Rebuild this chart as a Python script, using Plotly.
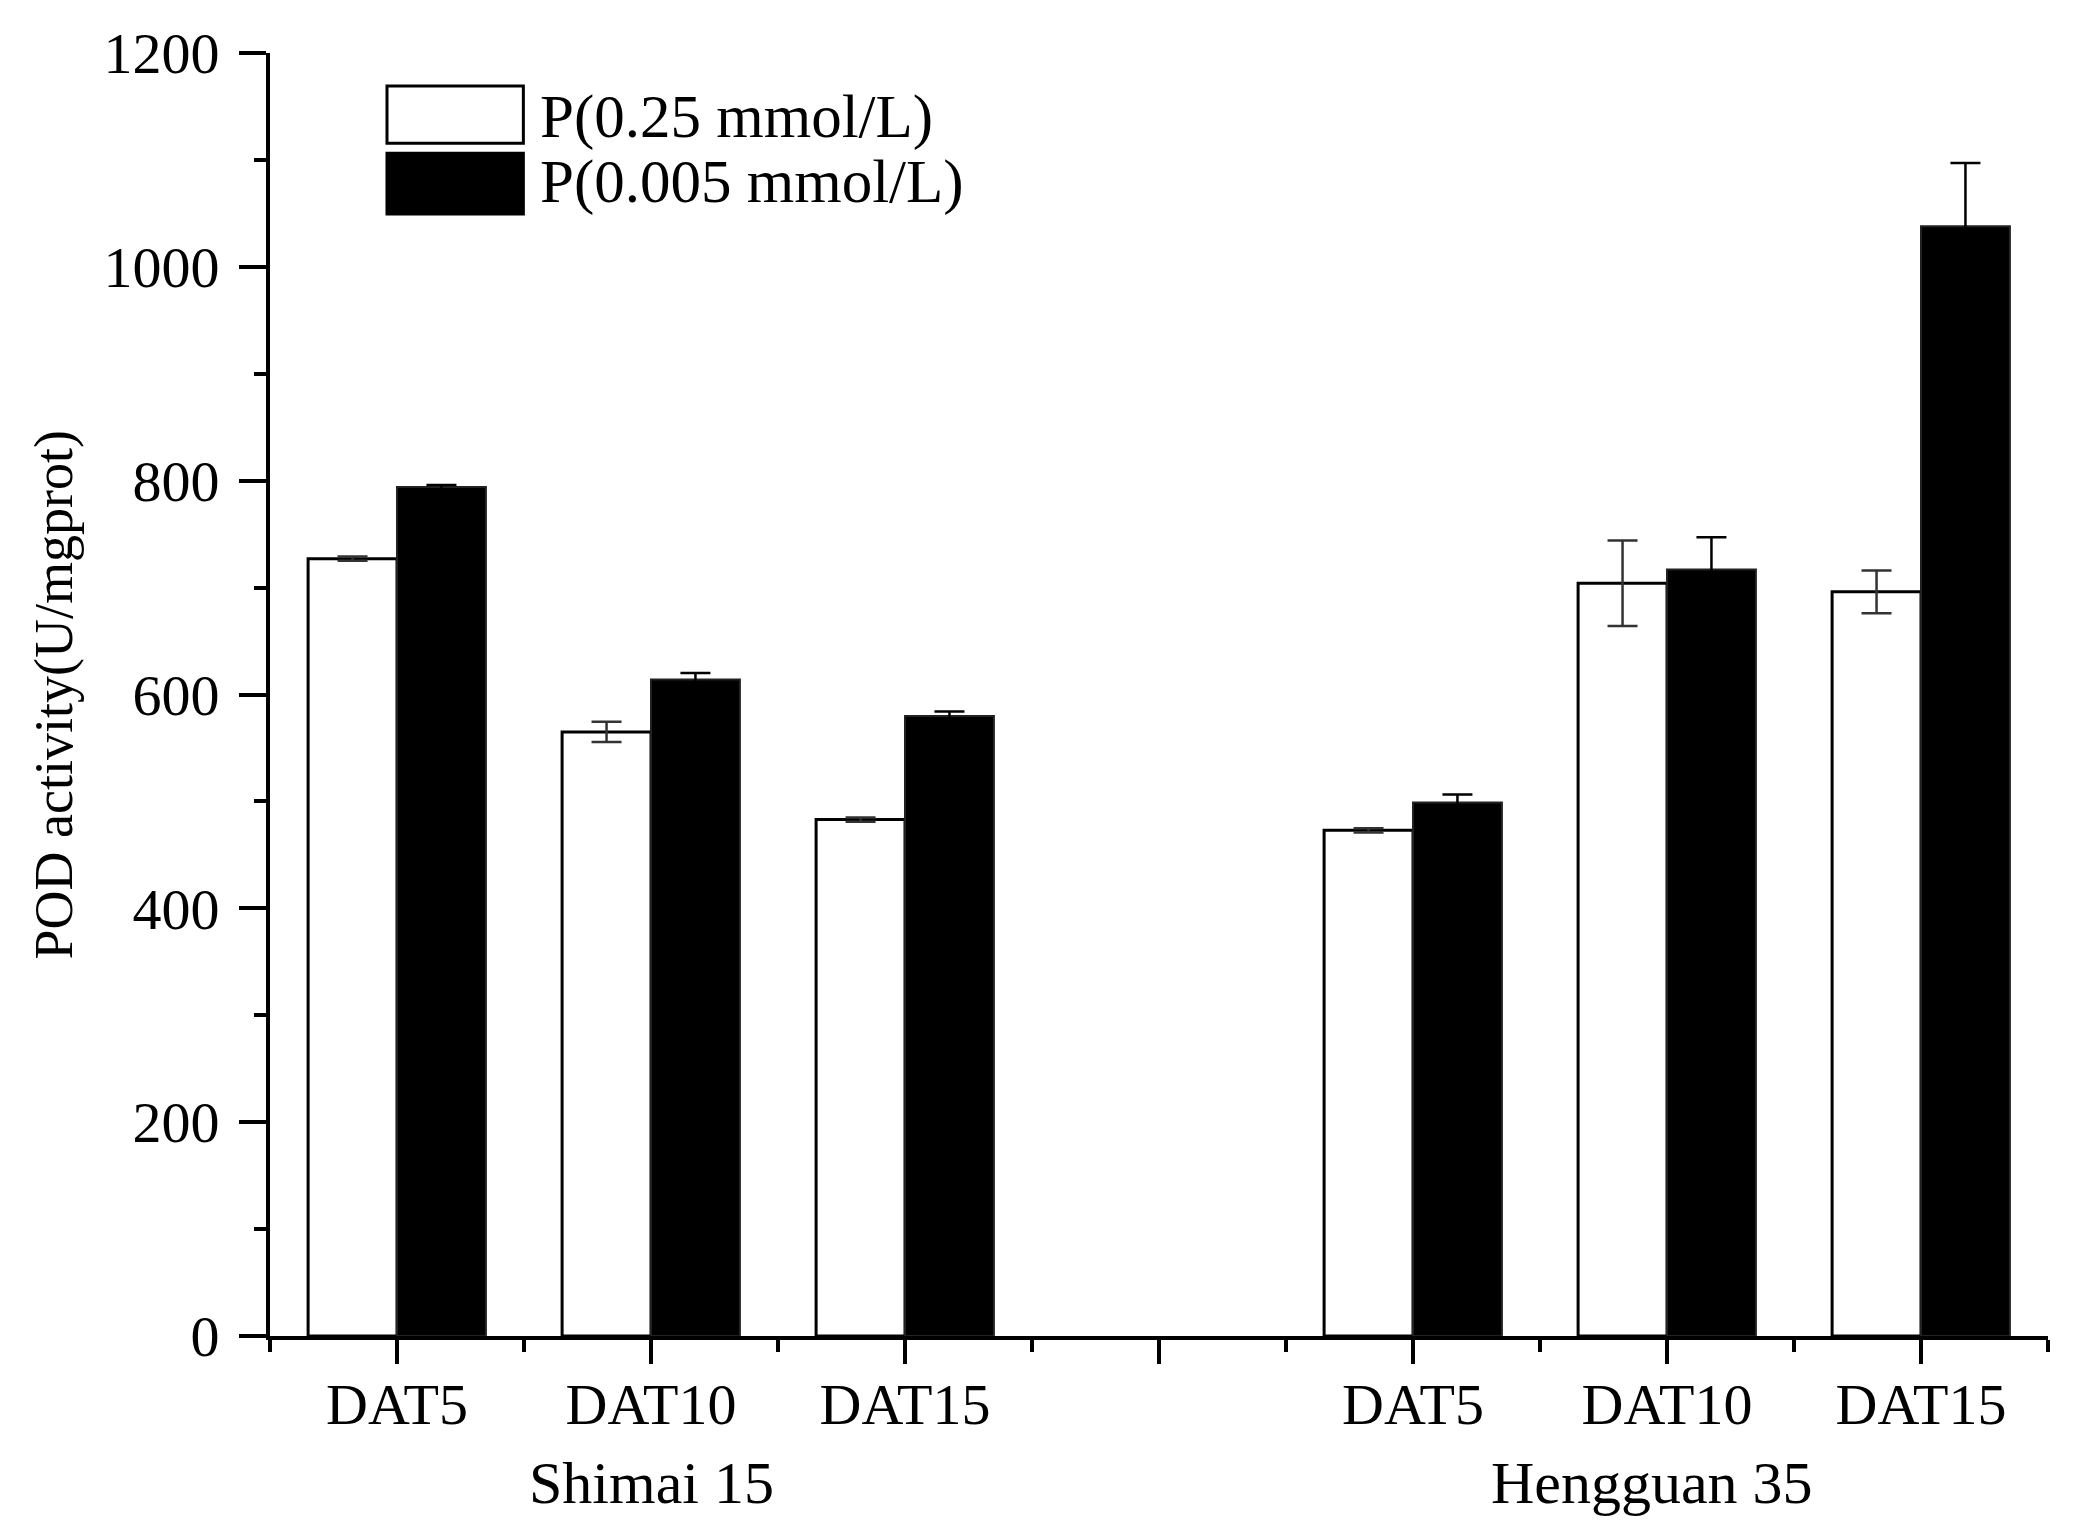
import plotly.graph_objects as go

# ---- data ----
cultivars = ["Shimai 15", "Hengguan 35"]
days = ["DAT5", "DAT10", "DAT15"]
series_names = ["P(0.25 mmol/L)", "P(0.005 mmol/L)"]

high_p = [727, 565, 483, 473, 704, 696]
high_p_err = [2, 9.5, 2, 2, 40, 20]
low_p = [794, 614, 580, 499, 717, 1038]
low_p_err = [2, 6, 4, 7.5, 30, 59]

y_ticks = [0, 200, 400, 600, 800, 1000, 1200]

# category slots: one empty slot between the two cultivars
slot = len(days) + 1
xpos = [g * slot + i + 1 for g in range(len(cultivars)) for i in range(len(days))]
tick_vals = list(range(1, slot * len(cultivars)))
tick_text = (days + [""]) * len(cultivars)
tick_text = tick_text[:len(tick_vals)]

FONT = "Liberation Serif"

fig = go.Figure()
fig.add_trace(go.Bar(
    x=xpos, y=high_p, name=series_names[0],
    marker=dict(color="white", line=dict(color="black", width=3)),
    error_y=dict(type="data", array=high_p_err, color="#333333",
                 thickness=2.5, width=15),
    showlegend=False,
))
fig.add_trace(go.Bar(
    x=xpos, y=low_p, name=series_names[1],
    marker=dict(color="black", line=dict(color="#222222", width=2)),
    error_y=dict(type="data", array=low_p_err, color="black",
                 thickness=2.5, width=15),
    showlegend=False,
))

fig.update_layout(
    width=2085, height=1538,
    margin=dict(l=269.5, r=37, t=53, b=202, pad=0),
    paper_bgcolor="white", plot_bgcolor="white",
    barmode="group", bargap=0.3, bargroupgap=0,
    font=dict(family=FONT, size=58, color="black"),
)

fig.update_xaxes(
    range=[0.5, 7.5], showgrid=False, zeroline=False,
    showline=True, linecolor="black", linewidth=4,
    tickmode="array", tickvals=tick_vals, ticktext=tick_text,
    ticks="outside", ticklen=24, tickwidth=3.5, tickcolor="black",
    tickfont=dict(family=FONT, size=58), ticklabelstandoff=-10,
    minor=dict(tickmode="array", tickvals=[v + 0.5 for v in [0] + tick_vals],
               ticks="outside", ticklen=12, tickwidth=3.5, tickcolor="black"),
)
fig.update_yaxes(
    range=[0, 1200], showgrid=False, zeroline=False,
    showline=True, linecolor="black", linewidth=4,
    tickmode="array", tickvals=y_ticks,
    ticks="outside", ticklen=27, tickwidth=3.5, tickcolor="black",
    tickfont=dict(family=FONT, size=58), ticklabelstandoff=8,
    minor=dict(dtick=100, tick0=0, ticks="outside", ticklen=12,
               tickwidth=3.5, tickcolor="black"),
)

# y-axis title
fig.add_annotation(
    text="POD activity(U/mgprot)", xref="paper", yref="paper",
    x=-0.1215, y=0.5, xanchor="center", yanchor="middle",
    textangle=-90, showarrow=False, font=dict(family=FONT, size=54),
)

# cultivar group labels
group_centers = [g * slot + (len(days) + 1) / 2 for g in range(len(cultivars))]
for name, xc in zip(cultivars, group_centers):
    fig.add_annotation(
        text=name, xref="x", yref="paper", x=xc - (0.06 if xc > 4 else 0),
        y=-0.1146, xanchor="center", yanchor="middle", showarrow=False,
        font=dict(family=FONT, size=60),
    )

# legend (drawn as boxes + text)
legend_rows = [
    dict(fill="white", y0=0.9296, y1=0.9743, ty=0.950),
    dict(fill="black", y0=0.8745, y1=0.9218, ty=0.8993),
]
for row, label in zip(legend_rows, series_names):
    fig.add_shape(type="rect", xref="paper", yref="paper",
                  x0=0.0658, x1=0.1425, y0=row["y0"], y1=row["y1"],
                  fillcolor=row["fill"], line=dict(color="black", width=3))
    fig.add_annotation(text=label, xref="paper", yref="paper",
                       x=0.1505, y=row["ty"], xanchor="left", yanchor="middle",
                       showarrow=False, font=dict(family=FONT, size=61))

fig.write_html("out.html", config={"displayModeBar": False},
               post_script="document.body.style.margin='0';document.body.style.overflow='hidden';")
